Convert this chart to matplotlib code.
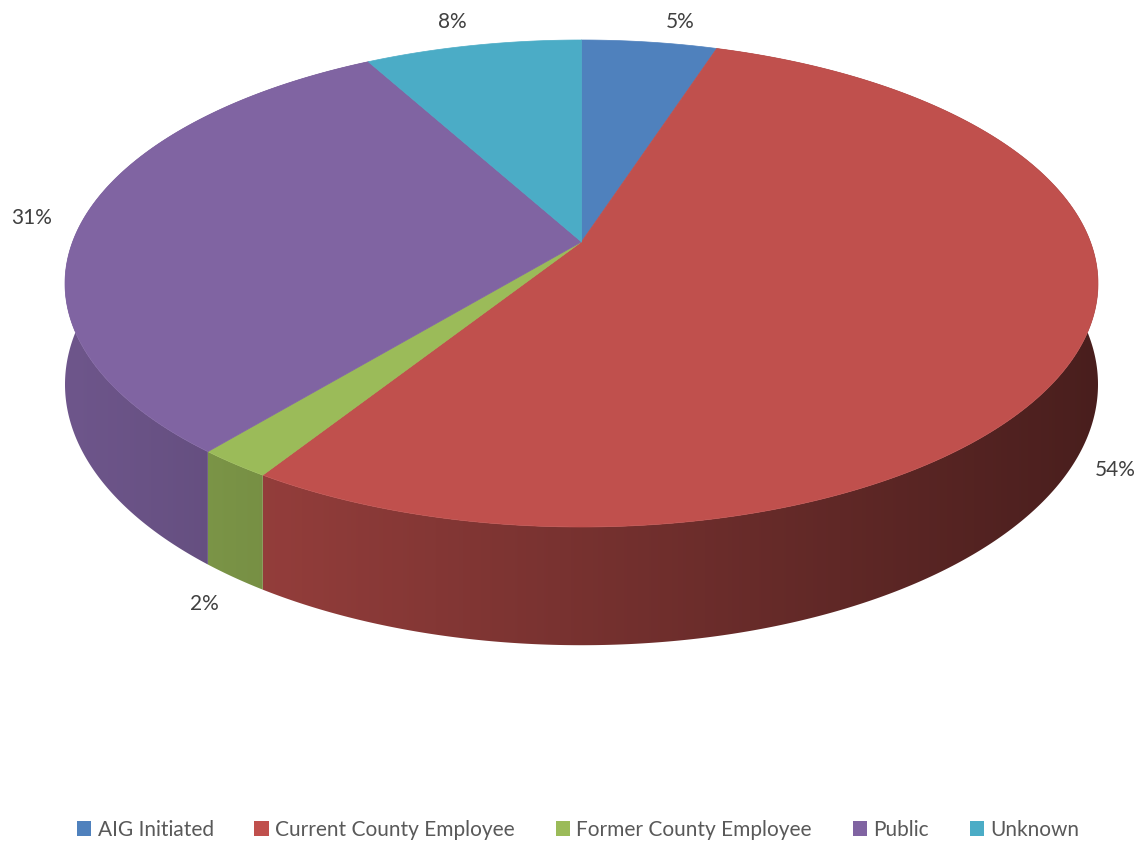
import matplotlib
matplotlib.use('Agg')
import matplotlib.pyplot as plt
import numpy as np
from matplotlib.collections import PolyCollection
from matplotlib.patches import Patch, Polygon
from matplotlib.colors import to_rgb

categories = ['AIG Initiated', 'Current County Employee', 'Former County Employee', 'Public', 'Unknown']
shares = [5, 54, 2, 31, 8]
colors = ['#4F81BD', '#C0504D', '#9BBB59', '#8064A2', '#4BACC6']

# label offsets from the rim, in pixels
label_offsets = [(31, 20), (37, -13.5), (-29.5, -26), (-51, 2), (-21, 23.5)]

# pie geometry in pixel units
cx, cy = 581.5, 283.5
rx, ry = 516.5, 243.5
k = 0.171       # perspective strength
depth = 98.0


def project(t, r=1.0):
    # t is measured clockwise from the far side of the pie
    u = r * np.sin(t)
    v = r * np.cos(t)
    w = 1 + k * v
    x = cx + rx * np.sqrt(1 - k * k) * u / w
    y = cy - ry * (v + k) / w
    return x, y, depth / w


def shade(u):
    return 0.62 - 0.24 * u


fig = plt.figure(figsize=(11.46, 8.42), dpi=100)
ax = fig.add_axes([0, 0, 1, 1])
ax.set_xlim(0, 1146)
ax.set_ylim(842, 0)
ax.axis('off')

total = float(sum(shares))
bounds = np.concatenate([[0], np.cumsum(shares)]) / total * 2 * np.pi

# side wall: one outline per slice, filled with a left-to-right shading ramp
xs = np.linspace(0, 1146, 1146)
u_screen = np.clip((xs - cx) / rx, -1, 1)
for i in range(len(shares)):
    ts = np.linspace(bounds[i], bounds[i + 1], 400)
    if np.all(np.cos(ts) > 0.3):
        continue
    x, y, d = project(ts)
    outline = np.vstack([np.column_stack([x, y]), np.column_stack([x, y + d])[::-1]])
    base = np.array(to_rgb(colors[i]))
    ramp = np.clip(base[None, :] * shade(u_screen)[:, None], 0, 1)[None, :, :]
    im = ax.imshow(ramp, extent=(0, 1146, 842, 0), aspect='auto', interpolation='bilinear', zorder=1)
    clip = Polygon(outline, closed=True, facecolor='none', edgecolor='none', transform=ax.transData)
    ax.add_patch(clip)
    im.set_clip_path(clip)

# top face
tops = []
ax0, ay0, _ = project(0.0, 0.0)
for i in range(len(shares)):
    ts = np.linspace(bounds[i], bounds[i + 1], 200)
    x, y, _ = project(ts)
    tops.append(np.vstack([[ax0, ay0], np.column_stack([x, y])]))
top = PolyCollection(tops, facecolors=colors, edgecolors=colors, linewidths=0.5, zorder=2)
ax.add_collection(top)

# percentage labels
for i, val in enumerate(shares):
    tm = 0.5 * (bounds[i] + bounds[i + 1])
    x, y, d = project(tm)
    if np.cos(tm) < 0:
        y = y + d
    ax.annotate(f'{val}%', xy=(x, y), xytext=label_offsets[i], textcoords='offset pixels',
                ha='center', va='center', fontsize=15, color='#404040', family='Lato')

handles = [Patch(facecolor=c, edgecolor='none') for c in colors]
fig.legend(handles, categories, loc='center', bbox_to_anchor=(0.5045, 0.0145), ncol=5,
           frameon=False, handlelength=0.7, handleheight=0.7, handletextpad=0.3,
           columnspacing=1.95, prop={'family': 'Lato', 'size': 15}, labelcolor='#595959')

fig.savefig('out.png', dpi=100)
